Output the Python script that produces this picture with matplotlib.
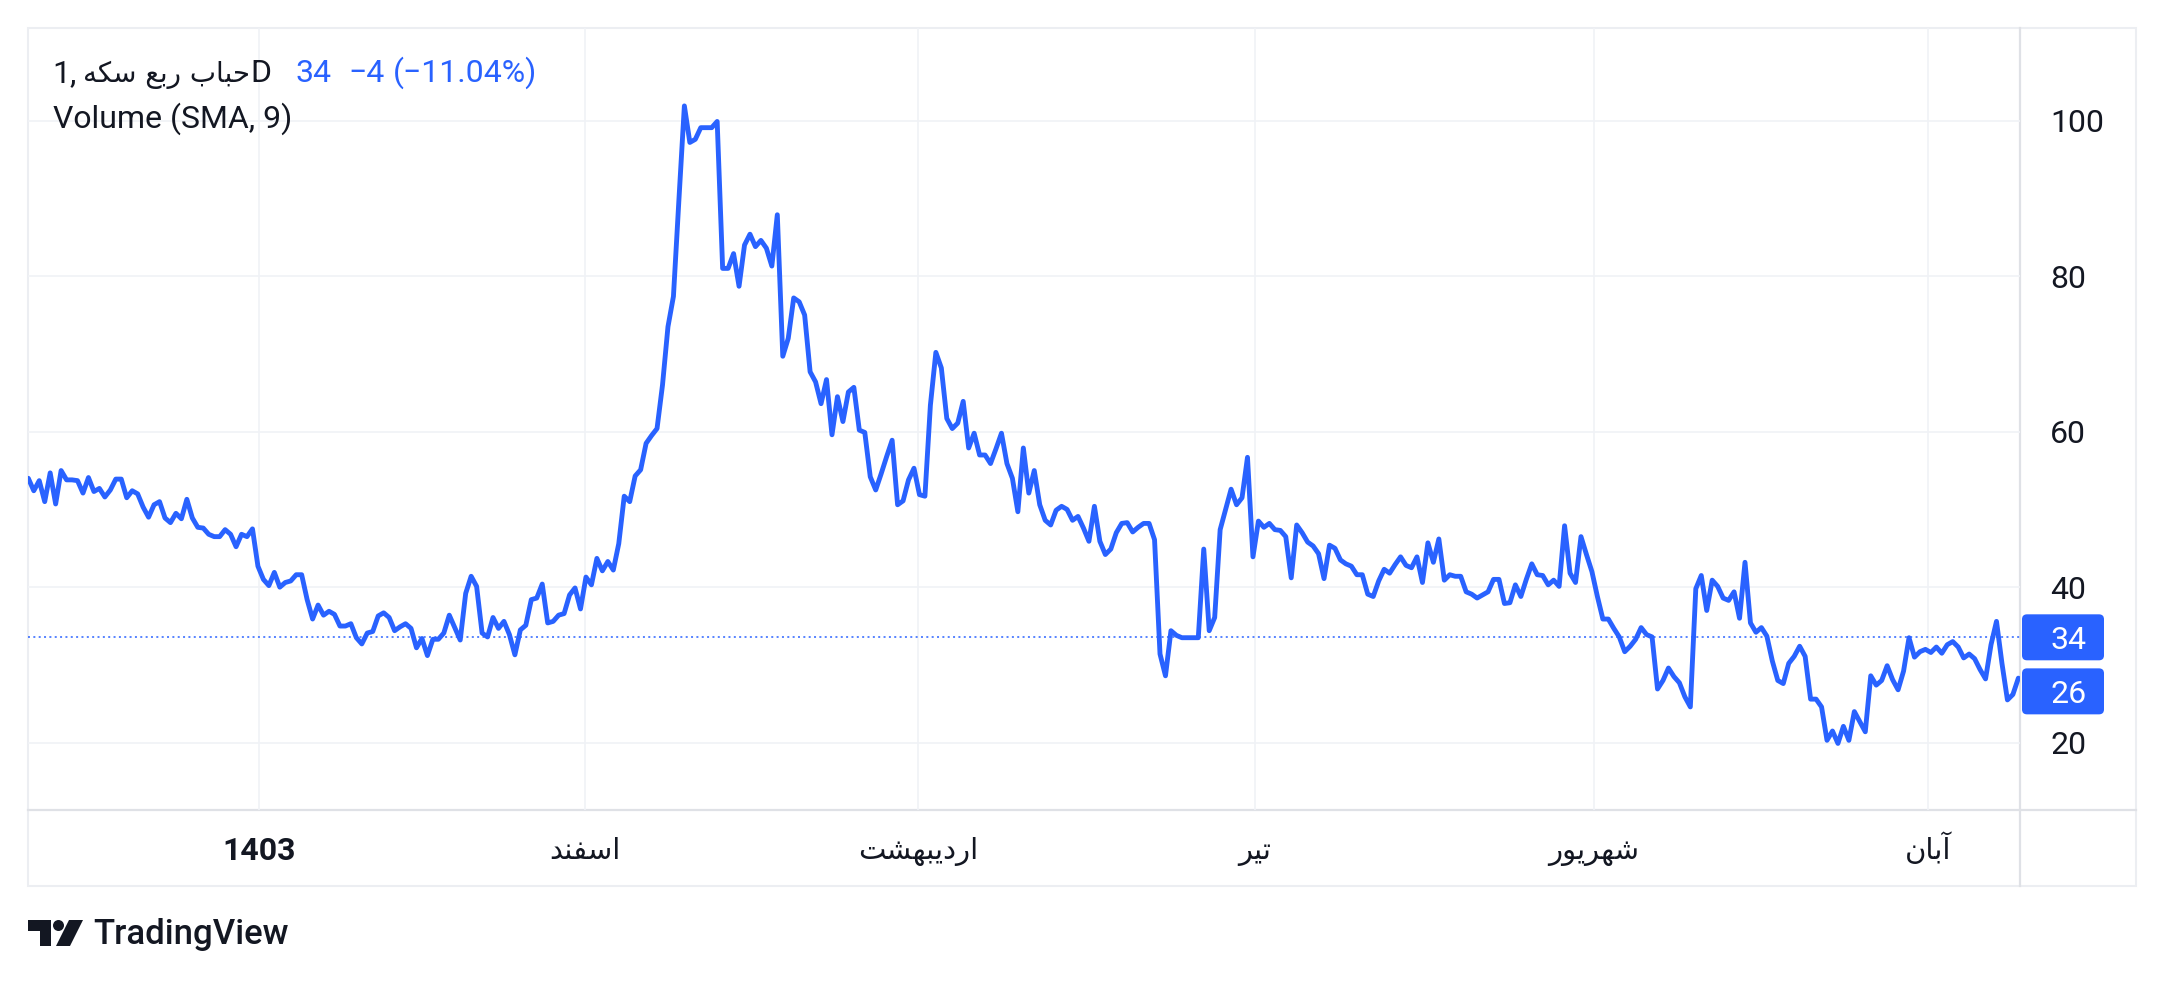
import matplotlib
matplotlib.use("Agg")
import matplotlib.pyplot as plt
import numpy as np
from matplotlib.patches import FancyBboxPatch, Polygon, Circle, Rectangle

# ---------------- data ----------------
values = [
    # segment 1
    54.0, 52.4, 53.7, 51.0, 54.7, 50.7, 55.0, 53.8, 53.8, 53.7, 52.1, 54.1, 52.3, 52.7, 51.6, 52.5,
    53.9, 53.9, 51.5, 52.4, 52.0, 50.3, 49.0, 50.6, 51.0, 48.9, 48.3, 49.5, 48.8, 51.3, 48.9, 47.7,
    47.6, 46.8, 46.5, 46.5, 47.4, 46.8, 45.2, 46.8, 46.5, 47.5, 42.7, 41.0, 40.2, 41.9, 40.0, 40.6,
    40.8, 41.6, 41.6, 38.4, 35.9, 37.7, 36.4, 36.9, 36.5, 35.0, 35.0, 35.3, 33.5, 32.7, 34.1, 34.3,
    36.3, 36.7, 36.1, 34.4, 34.9, 35.3, 34.7, 32.2, 33.4, 31.2, 33.3, 33.3,
    # segment 2
    34.1, 36.4, 34.8, 33.2, 39.2, 41.4, 40.1, 34.1, 33.6, 36.1, 34.7, 35.6, 33.9, 31.3, 34.5, 35.1,
    38.4, 38.6, 40.4, 35.4, 35.6, 36.4, 36.6, 39.0, 39.9, 37.2, 41.3, 40.3, 43.7, 42.1, 43.3, 42.2,
    45.6, 51.7, 51.0, 54.3, 55.1, 58.5, 59.5, 60.4, 66.0, 73.5, 77.4, 89.8, 101.9, 97.2, 97.6, 99.1,
    99.1, 99.1, 99.9, 81.0, 81.0, 82.9, 78.7, 84.0, 85.4, 83.8, 84.6, 83.6, 81.3, 87.9, 69.7, 72.0,
    77.2, 76.7, 75.0, 67.7, 66.4, 63.6, 66.7, 59.6, 64.5, 61.3, 65.1, 65.7, 60.2, 59.9, 54.2, 52.5,
    54.6, 56.8, 58.9, 50.6, 51.1, 53.8, 55.3, 51.9, 51.7, 63.4, 70.2, 68.2, 61.7, 60.4, 61.1, 63.9,
    57.9, 59.8, 57.0, 57.0, 55.9, 57.8, 59.8, 55.9, 54.0, 49.7, 57.9, 52.1, 55.0, 50.6, 48.6, 48.0,
    49.9, 50.4, 50.0, 48.6, 49.1, 47.6, 45.9, 50.4, 45.9,
    # segment 3
    44.2, 44.9, 47.0, 48.2, 48.3, 47.1, 47.7, 48.2, 48.2, 46.1, 31.4, 28.6, 34.4, 33.8, 33.5, 33.5,
    33.5, 33.5, 44.9, 34.4, 36.1, 47.4, 50.0, 52.6, 50.6, 51.5, 56.7, 43.9, 48.5, 47.7, 48.2, 47.4,
    47.3, 46.5, 41.2, 48.0, 47.0, 45.8, 45.3, 44.3, 41.1, 45.4, 45.0, 43.5, 43.0, 42.7, 41.6, 41.6,
    39.1, 38.8, 40.8, 42.3, 41.8, 42.9, 43.9, 42.8, 42.5, 43.9, 40.6, 45.7, 43.2, 46.2, 40.9, 41.6,
    41.4, 41.4, 39.4, 39.1, 38.6, 39.0, 39.4, 41.0, 41.0, 37.9, 38.0, 40.3, 38.8, 41.0, 43.0, 41.6,
    41.5, 40.3, 40.9, 40.1, 47.9, 41.8, 40.6, 46.5, 44.2, 42.0, 38.8, 35.9, 35.9, 34.7, 33.6, 31.7,
    32.4, 33.3, 34.8, 33.9, 33.6, 26.9, 28.0, 29.6, 28.5, 27.7, 25.9, 24.6, 39.8, 41.5, 37.0, 40.9,
    40.1, 38.6, 38.3, 39.4, 36.0, 43.2, 35.4, 34.2, 34.8, 33.7, 30.5, 28.0, 27.6, 30.2, 31.1, 32.4,
    31.1, 25.6, 25.6, 24.6, 20.3, 21.5, 19.9, 22.1, 20.3, 24.0, 22.7, 21.4, 28.6, 27.4, 28.0, 29.9,
    28.1, 26.8, 29.2, 33.5, 31.0, 31.7, 32.0, 31.6, 32.3, 31.5, 32.6, 33.0, 32.3, 30.9, 31.4, 30.8,
    29.4, 28.2, 32.6, 35.6, 30.2, 25.5, 26.2, 28.3,
]

y_ticks = [20, 40, 60, 80, 100]
x_tick_idx = [42.2, 101.8, 162.8, 224.3, 286.3, 347.5]
x_tick_labels = ["1403", "اسفند", "اردیبهشت", "تیر", "شهریور", "آبان"]
x_tick_bold = [True, False, False, False, False, False]

title = "حباب ربع سکه"
interval = "1D"
last_price = "34"
change = "−4"
change_pct = "(−11.04%)"
indicator = "Volume (SMA, 9)"
price_line_value = 33.55
axis_labels = ["34", "26"]
axis_label_values = [33.55, 26.6]

# ---------------- helpers ----------------
FORMS = {
    "\u0622": ("\uFE81", "\uFE82", None, None),
    "\u0627": ("\uFE8D", "\uFE8E", None, None),
    "\u0628": ("\uFE8F", "\uFE90", "\uFE91", "\uFE92"),
    "\u062A": ("\uFE95", "\uFE96", "\uFE97", "\uFE98"),
    "\u062D": ("\uFEA1", "\uFEA2", "\uFEA3", "\uFEA4"),
    "\u062F": ("\uFEA9", "\uFEAA", None, None),
    "\u0631": ("\uFEAD", "\uFEAE", None, None),
    "\u0633": ("\uFEB1", "\uFEB2", "\uFEB3", "\uFEB4"),
    "\u0634": ("\uFEB5", "\uFEB6", "\uFEB7", "\uFEB8"),
    "\u0639": ("\uFEC9", "\uFECA", "\uFECB", "\uFECC"),
    "\u0641": ("\uFED1", "\uFED2", "\uFED3", "\uFED4"),
    "\u0646": ("\uFEE5", "\uFEE6", "\uFEE7", "\uFEE8"),
    "\u0647": ("\uFEE9", "\uFEEA", "\uFEEB", "\uFEEC"),
    "\u0648": ("\uFEED", "\uFEEE", None, None),
    "\u06A9": ("\uFB8E", "\uFB8F", "\uFB90", "\uFB91"),
    "\u0643": ("\uFED9", "\uFEDA", "\uFEDB", "\uFEDC"),
    "\u06CC": ("\uFBFC", "\uFBFD", "\uFBFE", "\uFBFF"),
    "\u064A": ("\uFEF1", "\uFEF2", "\uFEF3", "\uFEF4"),
}


def shape(s):
    out = []
    for i, c in enumerate(s):
        if c not in FORMS:
            out.append(c)
            continue
        iso, fin, ini, med = FORMS[c]
        prev = s[i - 1] if i > 0 else ""
        nxt = s[i + 1] if i + 1 < len(s) else ""
        jp = prev in FORMS and FORMS[prev][2] is not None
        jn = ini is not None and nxt in FORMS
        if jp and jn:
            g = med
        elif jp:
            g = fin
        elif jn:
            g = ini
        else:
            g = iso
        out.append(g)
    return "".join(reversed(out))


# ---------------- layout ----------------
W, H, DPI = 2164, 982, 100
PL, PR, PT, PB = 27.6, 2020.0, 27.6, 810.0
OR, OB = 2136.0, 886.0
TXT = "#131722"
BLUE = "#2962ff"
LATIN = ["Roboto", "DejaVu Sans"]
ARAB = ["DejaVu Sans"]
FS = 23

fig = plt.figure(figsize=(W / DPI, H / DPI), dpi=DPI)
fig.patch.set_facecolor("white")

bg = fig.add_axes([0, 0, 1, 1], zorder=0)
bg.set_xlim(0, W)
bg.set_ylim(H, 0)
bg.axis("off")

ax = fig.add_axes([PL / W, 1 - PB / H, (PR - PL) / W, (PB - PT) / H], zorder=1)
ax.set_facecolor("none")
for s in ax.spines.values():
    s.set_visible(False)
ax.set_xticks([])
ax.set_yticks([])
ax.set_xlim(-0.13, 364.3)
ax.set_ylim(11.34, 111.97)

fg = fig.add_axes([0, 0, 1, 1], zorder=2)
fg.set_xlim(0, W)
fg.set_ylim(H, 0)
fg.axis("off")
fg.patch.set_alpha(0)

grid_c = "#f0f2f6"
for v in y_ticks:
    ax.axhline(v, color=grid_c, lw=1.2, zorder=1)
for t in x_tick_idx:
    ax.axvline(t, color=grid_c, lw=1.2, zorder=1)

ax.axhline(price_line_value, color=BLUE, lw=1.1, linestyle=(0, (1.3, 2.2)), zorder=2)
ax.plot(np.arange(len(values)), values, color=BLUE, lw=3.5,
        solid_joinstyle="round", solid_capstyle="round", zorder=3)

# borders
bg.add_patch(Rectangle((PL, PT), OR - PL, OB - PT, fill=False, ec="#eceef2", lw=1.5, zorder=1))
bg.plot([PL, OR], [PB, PB], color="#dfe1e6", lw=1.6, zorder=2)
bg.plot([PR, PR], [PT, OB], color="#dfe1e6", lw=1.6, zorder=2)

fig.canvas.draw()
renderer = fig.canvas.get_renderer()


def ypix(v):
    return H - ax.transData.transform((0, v))[1]


def xpix(t):
    return ax.transData.transform((t, 0))[0]


def width_px(t):
    bb = t.get_window_extent(renderer=renderer)
    return bb.x1 - bb.x0


CAP = 11.5  # half cap height in px

# y tick labels
for v in y_ticks:
    fg.text(2050, ypix(v) + CAP, str(v), ha="left", va="baseline", fontsize=FS,
            color=TXT, family=LATIN)

# price label boxes
for lab, v in zip(axis_labels, axis_label_values):
    yc = ypix(v)
    fg.add_patch(FancyBboxPatch((PR + 2, yc - 23), 82, 46,
                                boxstyle="round,pad=0,rounding_size=5",
                                fc=BLUE, ec="none", zorder=4))
    fg.text(2050, yc + CAP, lab, ha="left", va="baseline", fontsize=FS,
            color="white", family=LATIN, zorder=5)

# x tick labels
for t, lab, b in zip(x_tick_idx, x_tick_labels, x_tick_bold):
    if b:
        fg.text(xpix(t), 860, lab, ha="center", va="baseline", fontsize=FS,
                color=TXT, family=LATIN, weight="bold")
    else:
        fg.text(xpix(t), 859, shape(lab), ha="center", va="baseline", fontsize=21,
                color=TXT, family=ARAB)

# legend line 1 (sequential layout)
x = 52.7
t1 = fg.text(x, 82, interval[0] + ",", ha="left", va="baseline", fontsize=FS,
             color=TXT, family=LATIN)
x += width_px(t1) + 6
ta = fg.text(x, 82, shape(title), ha="left", va="baseline", fontsize=20,
             color=TXT, family=ARAB)
wa = width_px(ta)
if wa > 168:
    ta.set_fontsize(20 * 168 / wa)
    wa = width_px(ta)
x += wa
t3 = fg.text(x, 82, interval[1:], ha="left", va="baseline", fontsize=FS,
             color=TXT, family=LATIN)
x += width_px(t3) + 24
t4 = fg.text(x, 82, last_price, ha="left", va="baseline", fontsize=FS,
             color=BLUE, family=LATIN)
x += width_px(t4) + 17
t5 = fg.text(x, 82, change, ha="left", va="baseline", fontsize=FS,
             color=BLUE, family=LATIN)
x += width_px(t5) + 9
fg.text(x, 82, change_pct, ha="left", va="baseline", fontsize=FS,
        color=BLUE, family=LATIN)
fg.text(52.7, 128, indicator, ha="left", va="baseline", fontsize=FS,
        color=TXT, family=LATIN)

# TradingView logo
fg.add_patch(Polygon([(28, 920), (51, 920), (51, 946), (40, 946), (40, 931), (28, 931)],
                     closed=True, fc=TXT, ec="none"))
fg.add_patch(Circle((58.5, 925.5), 5.5, fc=TXT, ec="none"))
fg.add_patch(Polygon([(69, 920), (83, 920), (70, 946), (56, 946)],
                     closed=True, fc=TXT, ec="none"))
fg.text(93, 944, "TradingView", ha="left", va="baseline", fontsize=25,
        color=TXT, family=LATIN, weight="medium")

fig.savefig("out.png", dpi=DPI, facecolor="white")
